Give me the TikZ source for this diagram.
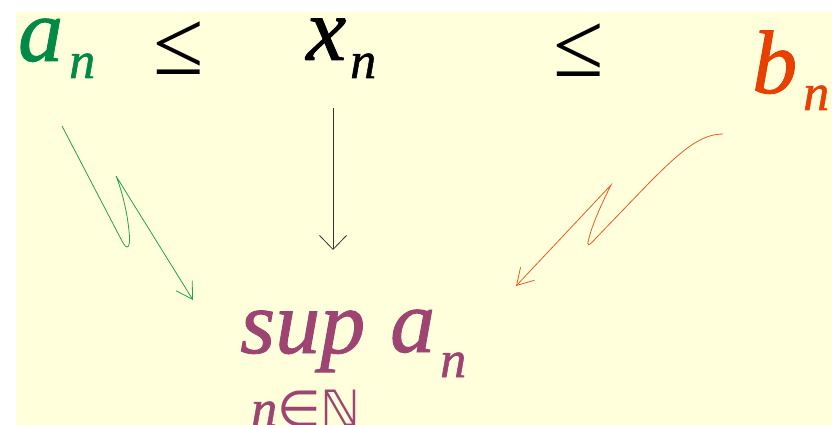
\documentclass[tikz,border=0pt]{standalone}
\usepackage{fontspec}
\setmainfont{Liberation Serif}
\newfontfamily\termfont{Liberation Serif Italic}[FakeBold=1]
\newfontfamily\symbfont{DejaVu Sans}
\usepackage{xcolor}
\usepackage{tikz}
\usetikzlibrary{arrows.meta}
\definecolor{paperyellow}{HTML}{FFFFDC}
\definecolor{lowgreen}{HTML}{008A45}
\definecolor{lowline}{HTML}{22A055}
\definecolor{highred}{HTML}{E84000}
\definecolor{highline}{HTML}{E85A28}
\definecolor{supplum}{HTML}{9E4472}
\definecolor{midgray}{HTML}{333333}

\tikzset{
  bigterm/.style={inner sep=0pt, anchor=base west, text height=0.5em, font=\fontsize{90}{90}\termfont},
  subterm/.style={inner sep=0pt, anchor=base west, font=\fontsize{52}{52}\termfont},
  relsign/.style={inner sep=0pt, anchor=base west, text height=0.6em, font=\fontsize{92}{92}\selectfont},
  hookarrow/.style={line width=0.8pt, -{Straight Barb[length=16pt, width=19pt]}},
}

\begin{document}
\begin{tikzpicture}[x=1pt, y=-1pt]
  \useasboundingbox (0,0) rectangle (832,425);
  \fill[paperyellow] (16,12) rectangle (832,425);
  % top row: a_n <= x_n <= b_n
  \node[bigterm, text=lowgreen] (a) at (18,61) {a};
  \node[subterm, text=lowgreen] (an) at (69,78) {n};
  \node[relsign] (leq1) at (153,75) {≤};
  \node[bigterm] (x) at (306,60) {x};
  \node[subterm] (xn) at (350,78) {n};
  \node[relsign] (leq2) at (553,77) {≤};
  \node[bigterm, text=highred, text height=0.7em] (b) at (752,93) {b};
  \node[subterm, text=highred] (bn) at (803,110) {n};
  % bottom: sup a_n over n in N
  \node[bigterm, text=supplum] (sup) at (240,353) {sup};
  \node[bigterm, text=supplum] (supa) at (390,352) {a};
  \node[subterm, text=supplum] (supan) at (440,377) {n};
  \node[subterm, text=supplum] (index) at (251,426) {n{\fontsize{50}{50}\symbfont ∈ℕ}};
  % arrow ends
  \coordinate (lowfrom) at (62,126);
  \coordinate (lowto) at (193,300);
  \coordinate (midfrom) at (333,108);
  \coordinate (midto) at (333,250);
  \coordinate (highfrom) at (723,134);
  \coordinate (highto) at (516,286);
  \draw[hookarrow, lowline] (lowfrom) -- (122,241)
    .. controls (127,251) and (131,249) .. (129,231)
    .. controls (127,211) and (122,191) .. (116,176) -- (lowto);
  \draw[midgray, line width=0.8pt, -{Straight Barb[length=14pt, width=27pt]}] (midfrom) -- (midto);
  \draw[hookarrow, highline] (highfrom) .. controls (700,134) and (680,152) .. (650,182)
    -- (596,238) .. controls (589,246) and (586,248) .. (589,238)
    .. controls (593,222) and (604,199) .. (611,185) -- (highto);
\end{tikzpicture}
\end{document}
